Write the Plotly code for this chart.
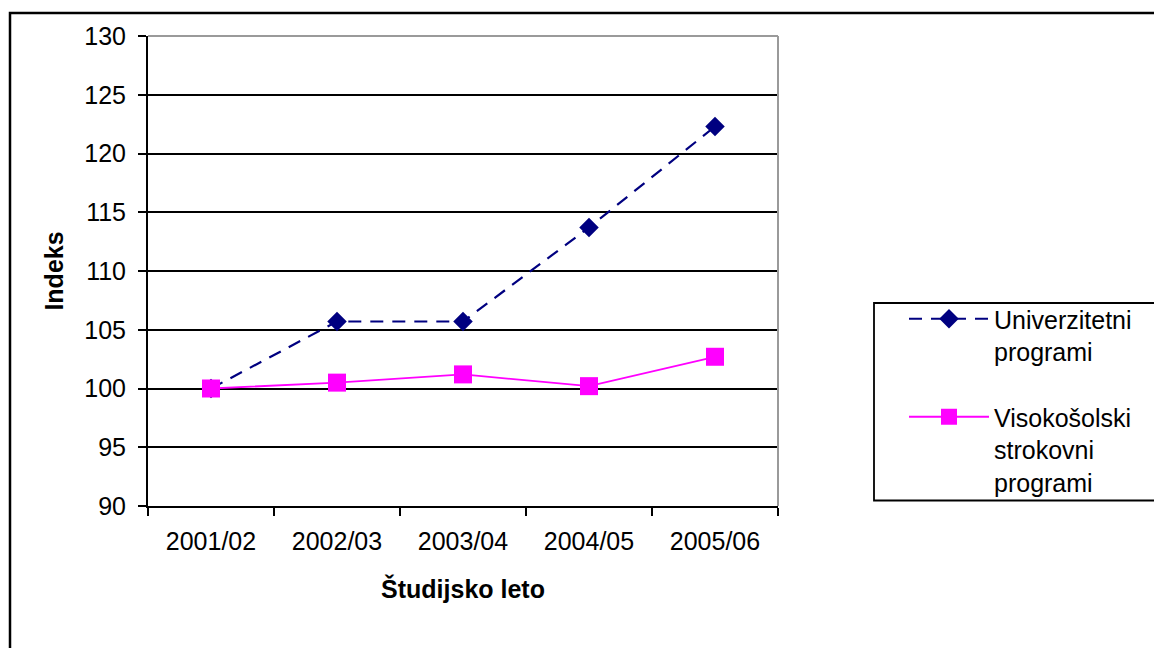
import plotly.graph_objects as go

categories = ["2001/02", "2002/03", "2003/04", "2004/05", "2005/06"]
univerzitetni = [100.0, 105.7, 105.7, 113.7, 122.3]
visokosolski = [100.0, 100.5, 101.2, 100.2, 102.7]
y_ticks = [90, 95, 100, 105, 110, 115, 120, 125, 130]

FONT = "Liberation Sans, Arial, sans-serif"
FS = 25

fig = go.Figure()
fig.add_trace(go.Scatter(
    x=categories, y=univerzitetni, mode="lines+markers",
    name="Univerzitetni<br>programi", legendgroup="u",
    line=dict(color="#000080", width=2.2, dash="13px,9px"),
    marker=dict(symbol="diamond", size=15, color="#000080"),
))
fig.add_trace(go.Scatter(
    x=categories, y=visokosolski, mode="lines+markers",
    name="Visokošolski<br>strokovni<br>programi", legendgroup="v",
    line=dict(color="#FF00FF", width=1.8),
    marker=dict(symbol="square", size=18, color="#FF00FF"),
))

# page has an 8px body offset; plot area on screen: x 148-778, y 36-506
L, R, T, B = 140, 1162 - 770, 28, 648 - 498
PW, PH = 630, 470
def px(x):
    return (x - 148) / PW
def py(y):
    return (506 - y) / PH

fig.update_layout(
    width=1162, height=648,
    margin=dict(l=L, r=R, t=T, b=B),
    paper_bgcolor="white", plot_bgcolor="white",
    font=dict(family=FONT, size=FS, color="black"),
    showlegend=True,
    legend=dict(
        x=px(904), y=py(296), xanchor="left", yanchor="top",
        bgcolor="rgba(0,0,0,0)", borderwidth=0,
        font=dict(family=FONT, size=FS, color="black"),
        tracegroupgap=30, itemwidth=80, valign="top",
    ),
    xaxis=dict(
        type="category", range=[-0.5, 4.5],
        showline=True, linecolor="black", linewidth=2,
        ticks="outside", ticklen=8, tickwidth=1.5, tickcolor="black",
        tickson="boundaries", showgrid=False,
        tickfont=dict(family=FONT, size=FS),
        ticklabelstandoff=12,
        title=dict(text="<b>Študijsko leto</b>", font=dict(family=FONT, size=FS), standoff=26),
    ),
    yaxis=dict(
        range=[90, 130], tickvals=y_ticks,
        showline=True, linecolor="black", linewidth=2,
        ticks="outside", ticklen=8, tickwidth=1.5, tickcolor="black",
        showgrid=True, gridcolor="black", gridwidth=1.5,
        zeroline=False,
        tickfont=dict(family=FONT, size=FS),
        ticklabelstandoff=7,
        title=dict(text="<b>Indeks</b>", font=dict(family=FONT, size=FS), standoff=14),
    ),
    shapes=[
        dict(type="line", xref="paper", yref="paper", x0=0, x1=1, y0=1, y1=1,
             line=dict(color="#9a9a9a", width=2), layer="above"),
        dict(type="line", xref="paper", yref="paper", x0=1, x1=1, y0=0, y1=1,
             line=dict(color="#9a9a9a", width=2), layer="above"),
        dict(type="rect", xref="paper", yref="paper",
             x0=px(10), x1=px(1200), y0=py(700), y1=py(13),
             line=dict(color="black", width=2.5)),
        dict(type="rect", xref="paper", yref="paper",
             x0=px(874), x1=px(1161), y0=py(500.5), y1=py(303),
             line=dict(color="black", width=1.8)),
    ],
)

fig.write_html("out.html")
